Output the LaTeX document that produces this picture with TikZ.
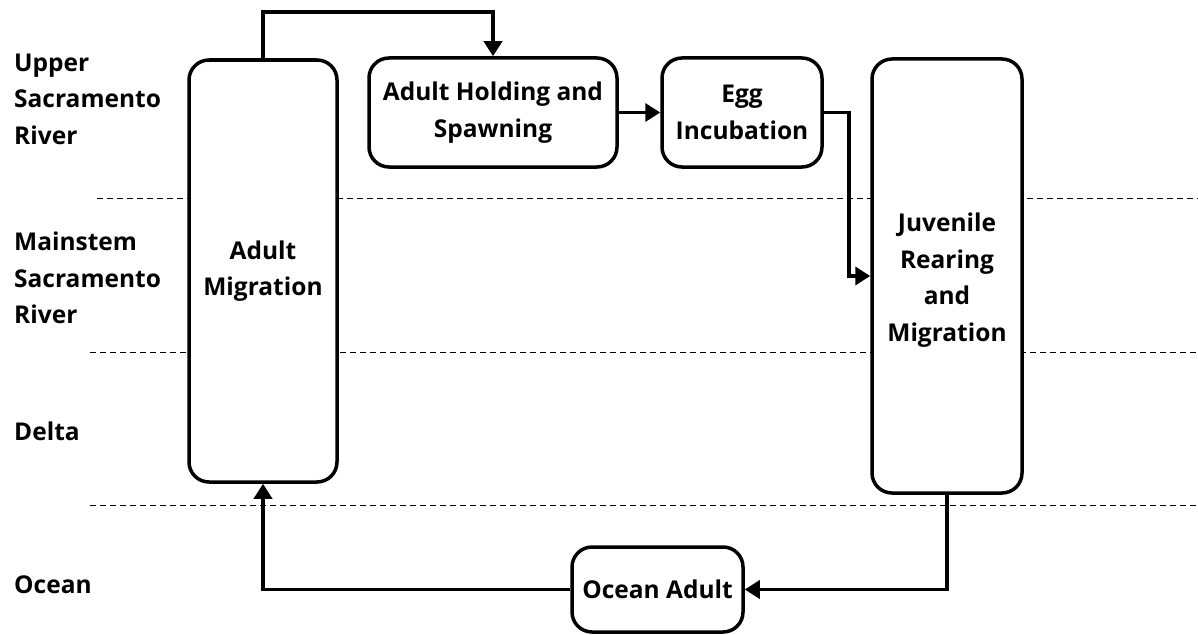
\documentclass[tikz,border=0pt]{standalone}
\usepackage{fontspec}
\setmainfont{Open Sans}
\usetikzlibrary{arrows.meta}
\begin{document}
\begin{tikzpicture}[x=1pt,y=-1pt,
  stage/.style={draw, line width=3.5pt, rounded corners=20pt, fill=white,
    align=center, font=\fontsize{24.5}{36.5}\selectfont\bfseries, inner sep=0pt},
  zone/.style={anchor=west, align=left, font=\fontsize{24.5}{36.5}\selectfont\bfseries, inner sep=0pt},
  flow/.style={line width=3.5pt, -{Triangle[length=15pt,width=18pt]}},
  divider/.style={line width=1pt, dash pattern=on 6pt off 4pt}]
\useasboundingbox (0,0) rectangle (1198,634);

% region dividers
\draw[divider] (97,198) -- (1198,198);
\draw[divider] (90,352) -- (1198,352);
\draw[divider] (90,505) -- (1198,505);

% region labels
\node[zone] (lupper) at (14,99) {Upper\\Sacramento\\River};
\node[zone] (lmain) at (14,278) {Mainstem\\Sacramento\\River};
\node[zone] (ldelta) at (14,431) {Delta};
\node[zone] (locean) at (14,585) {Ocean};

% life stages
\node[stage, minimum width=148pt, minimum height=422pt] (am) at (263,271) {Adult\\Migration};
\node[stage, minimum width=248pt, minimum height=109pt] (hold) at (493,112.5) {Adult Holding and\\Spawning};
\node[stage, minimum width=160pt, minimum height=109pt] (egg) at (742,112.5) {Egg\\Incubation};
\node[stage, minimum width=150pt, minimum height=434pt] (juv) at (947,276) {\\[-10pt]Juvenile\\Rearing\\and\\Migration};
\node[stage, minimum width=171pt, minimum height=85pt] (ocean) at (657.5,589.5) {Ocean Adult};

% connectors
\coordinate (top) at (0,12);
\draw[flow] (am.north) -- (am.north |- top) -| (hold.north);
\draw[flow] (hold.east) -- (egg.west);
\draw[flow] (egg.east) -- ++(25,0) |- (juv.west);
\draw[flow] (juv.south) |- (ocean.east);
\draw[flow] (ocean.west) -| (am.south);
\end{tikzpicture}
\end{document}
